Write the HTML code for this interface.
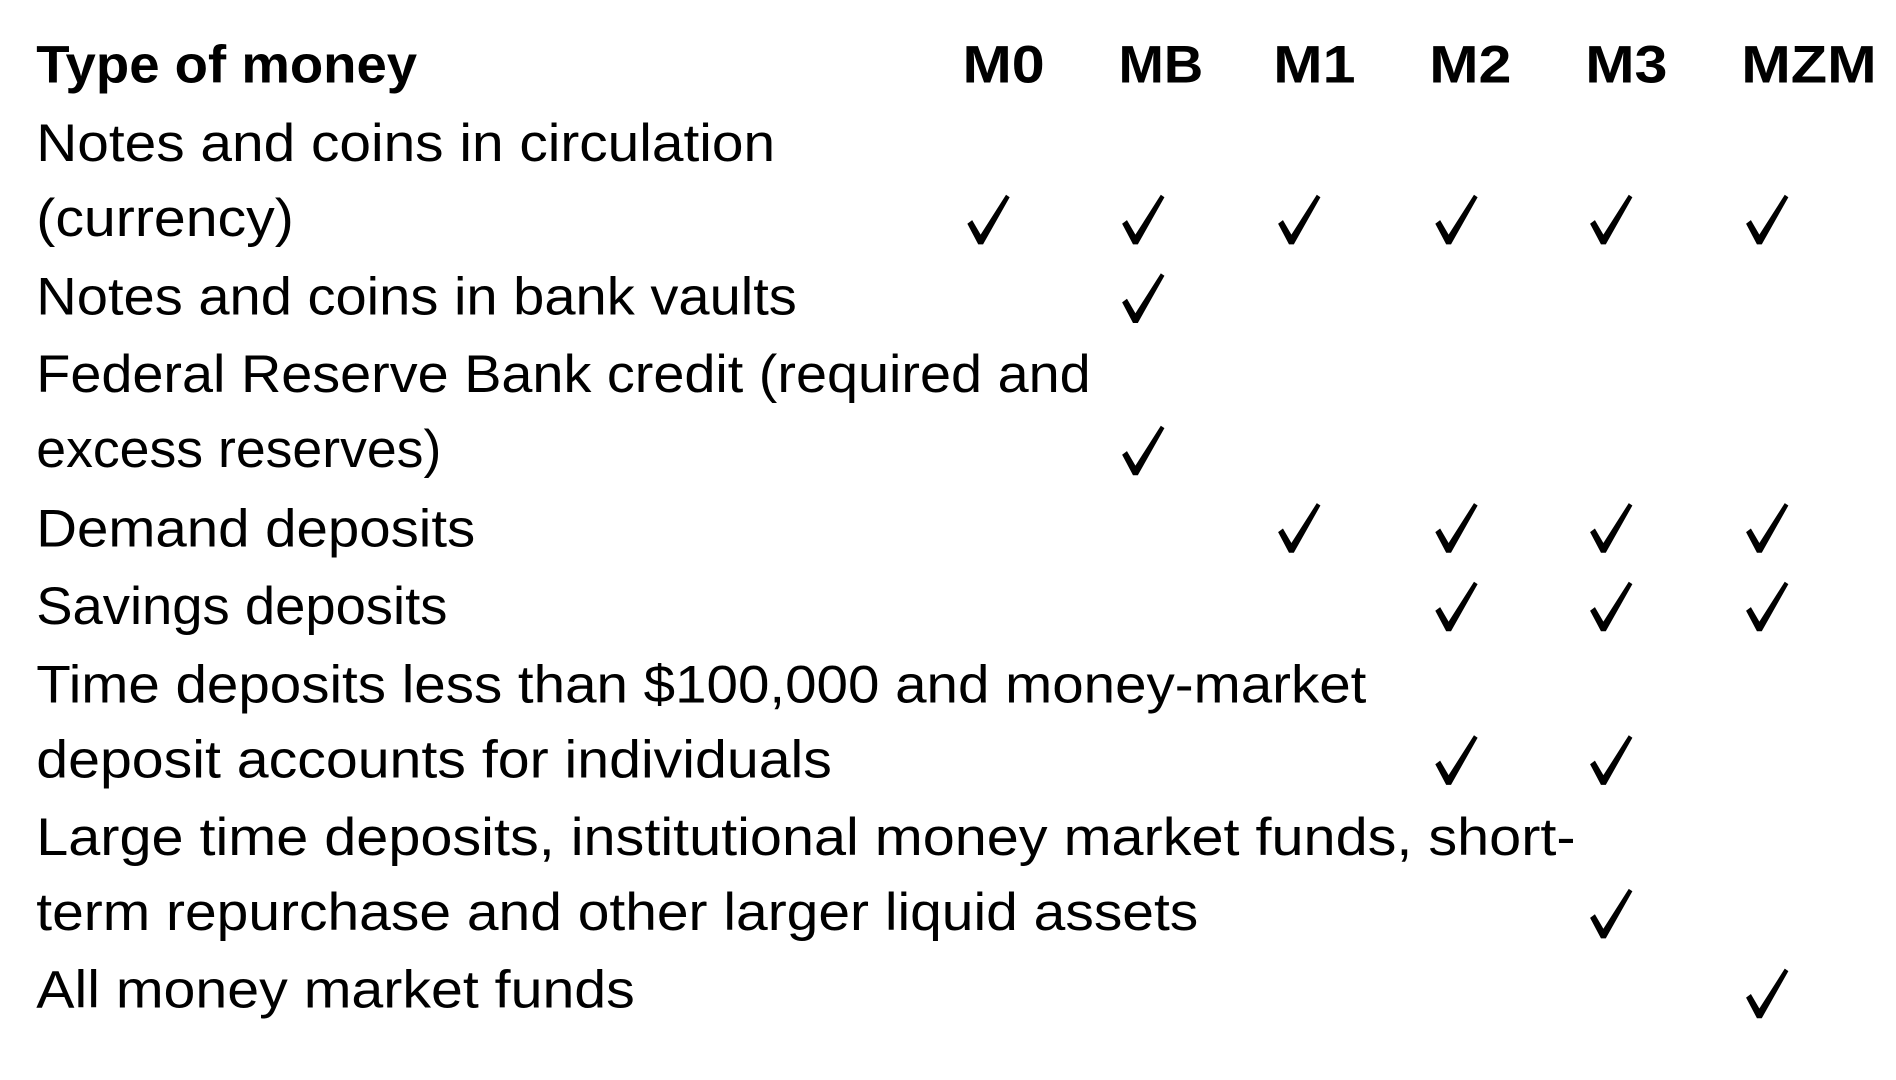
<!DOCTYPE html>
<html><head><meta charset="utf-8"><style>
html,body{margin:0;padding:0;background:#fff;}
svg{display:block;}
text{font-family:"Liberation Sans",sans-serif;fill:#000;}
</style></head><body>
<svg id="chart" width="1896" height="1080" viewBox="0 0 1568 893" xmlns="http://www.w3.org/2000/svg"></svg>
<script>
const columns = ["M0","MB","M1","M2","M3","MZM"];
const colCenters = [830,960,1087,1216,1345,1496];
const colRight = [864,995,1121,1250,1379,1552];
const checkX = [818,946,1075,1205,1333,1462];
const lines = [
 ["Notes and coins in circulation",641,118],
 ["(currency)",243,180],
 ["Notes and coins in bank vaults",659,245],
 ["Federal Reserve Bank credit (required and",902,309],
 ["excess reserves)",365,371],
 ["Demand deposits",393,437],
 ["Savings deposits",370,501],
 ["Time deposits less than $100,000 and money-market",1130,566],
 ["deposit accounts for individuals",688,628],
 ["Large time deposits, institutional money market funds, short-",1303,692],
 ["term repurchase and other larger liquid assets",991,754],
 ["All money market funds",525,818]
];
const checkRows = [182,247,373,437,502,629,756,822];
const checks = [
 [1,1,1,1,1,1],
 [0,1,0,0,0,0],
 [0,1,0,0,0,0],
 [0,0,1,1,1,1],
 [0,0,0,1,1,1],
 [0,0,0,1,1,0],
 [0,0,0,0,1,0],
 [0,0,0,0,0,1]
];
const svg = document.getElementById('chart');
const NS = "http://www.w3.org/2000/svg";
function txt(s,x,y,w,bold){
  const t=document.createElementNS(NS,'text');
  t.setAttribute('x',x);t.setAttribute('y',y);
  t.setAttribute('font-size',44);
  if(bold)t.setAttribute('font-weight','bold');
  t.setAttribute('textLength',w);
  t.setAttribute('lengthAdjust','spacingAndGlyphs');
  t.textContent=s;svg.appendChild(t);return t;
}
const h=txt("Type of money",30,68,315,true);


columns.forEach((c,i)=>{
  const w=colRight[i]-(2*colCenters[i]-colRight[i]);
  const t=txt(c,2*colCenters[i]-colRight[i],68,w,true);
  
  
});
lines.forEach((l,i)=>{
  const t=txt(l[0],30,l[2]+15,l[1]-30,false);
  
  
});
checks.forEach((row,r)=>{
  row.forEach((v,c)=>{
    if(!v)return;
    const x=checkX[c],y=checkRows[r];
    const p=document.createElementNS(NS,'path');
    p.setAttribute('d',`M${x-18} ${y+3} L${x-14} ${y} L${x-7} ${y+12} L${x+14} ${y-21} L${x+17} ${y-19} L${x-5} ${y+20} L${x-9} ${y+20} Z`);
    p.setAttribute('fill','#000');
    
    
    svg.appendChild(p);
  });
});
</script>
</body></html>
